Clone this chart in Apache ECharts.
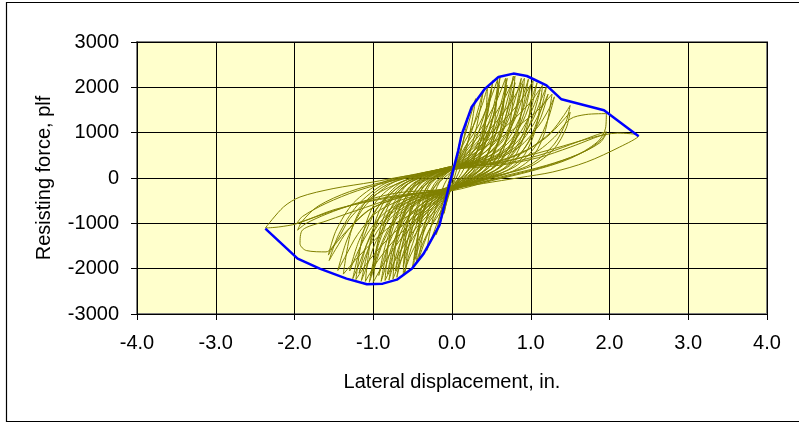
<!DOCTYPE html>
<html><head><meta charset="utf-8">
<script src="https://cdn.jsdelivr.net/npm/echarts@6/dist/echarts.min.js"></script>
<style>html,body{margin:0;padding:0;background:#fff}#c{width:799px;height:423px}</style>
</head><body><div id="c"></div>
<script>
// ---- axis ticks ----
const xTicks = [-4, -3, -2, -1, 0, 1, 2, 3, 4];
const yTicks = [-3000, -2000, -1000, 0, 1000, 2000, 3000];
const xTitle = 'Lateral displacement, in.';
const yTitle = 'Resisting force, plf';

// ---- backbone envelope (blue) ----
const envelopeX = [-2.37,-1.96,-1.68,-1.34,-1.08,-0.88,-0.70,-0.51,-0.36,-0.16,-0.03,0.08,0.12,0.25,0.42,0.59,0.78,0.95,1.20,1.39,1.93,2.37];
const envelopeY = [-1117,-1779,-2000,-2220,-2345,-2330,-2242,-2000,-1668,-1044,-124,611,942,1566,1972,2228,2303,2250,2045,1736,1493,920];

// ---- hysteresis loops (olive), [displacement, force] ----
const cycleA = [[0,0],[0.05,420],[0.1,800],[0.07,520],[0.02,100],[-0.03,-250],[-0.08,-620],[-0.1,-780],[-0.07,-500],[-0.02,-120],[0,30]];
const cycleB = [[0,30],[0.08,600],[0.15,1080],[0.2,1350],[0.17,1050],[0.1,480],[0.03,0],[-0.03,-330],[-0.1,-720],[-0.16,-1050],[-0.2,-1250],[-0.17,-950],[-0.1,-430],[-0.03,-20],[0,150]];
const cycleC = [[0,150],[0.1,580],[0.2,1150],[0.27,1580],[0.3,1750],[0.26,1300],[0.19,700],[0.1,180],[0,-180],[-0.1,-580],[-0.2,-1050],[-0.28,-1430],[-0.32,-1600],[-0.28,-1180],[-0.2,-620],[-0.1,-150],[0,160]];
const cycleD = [[0,160],[0.12,480],[0.24,980],[0.33,1500],[0.4,1950],[0.35,1450],[0.27,820],[0.15,200],[0,-220],[-0.12,-560],[-0.25,-1000],[-0.35,-1420],[-0.42,-1780],[-0.37,-1250],[-0.28,-620],[-0.15,-60],[0,200]];
const cycleE = [[0,200],[0.15,430],[0.3,850],[0.42,1450],[0.49,1900],[0.52,2150],[0.47,1600],[0.38,900],[0.25,300],[0.1,-50],[0,-230],[-0.15,-520],[-0.3,-950],[-0.41,-1450],[-0.47,-1800],[-0.5,-1950],[-0.45,-1400],[-0.36,-700],[-0.22,-120],[0,220]];
const cycleF = [[0,220],[0.2,450],[0.38,850],[0.5,1400],[0.57,1900],[0.61,2220],[0.56,1650],[0.46,950],[0.32,320],[0.15,0],[0,-230],[-0.2,-500],[-0.38,-900],[-0.5,-1450],[-0.57,-1850],[-0.6,-2100],[-0.55,-1500],[-0.45,-750],[-0.3,-150],[-0.1,100],[0,220]];
const cycleG = [[0,230],[0.25,470],[0.45,850],[0.58,1400],[0.66,1900],[0.7,2200],[0.65,1650],[0.55,950],[0.4,350],[0.2,0],[0,-240],[-0.25,-520],[-0.45,-900],[-0.58,-1450],[-0.66,-1900],[-0.7,-2190],[-0.64,-1550],[-0.53,-800],[-0.36,-180],[-0.15,100],[0,230]];
const cycleH = [[0,230],[0.28,450],[0.5,820],[0.64,1350],[0.73,1900],[0.78,2250],[0.72,1650],[0.62,950],[0.45,330],[0.25,20],[0,-250],[-0.3,-520],[-0.52,-900],[-0.66,-1450],[-0.75,-1950],[-0.8,-2250],[-0.73,-1550],[-0.6,-750],[-0.42,-150],[-0.2,120],[0,240]];
const cycleI = [[0,240],[0.3,430],[0.55,780],[0.72,1300],[0.82,1850],[0.88,2200],[0.82,1600],[0.7,900],[0.52,320],[0.3,20],[0,-260],[-0.32,-500],[-0.58,-880],[-0.74,-1400],[-0.84,-1950],[-0.9,-2280],[-0.82,-1550],[-0.68,-750],[-0.48,-150],[-0.22,120],[0,250]];
const cycleJ = [[0,250],[0.35,420],[0.62,760],[0.8,1300],[0.91,1850],[0.97,2180],[0.9,1550],[0.77,850],[0.58,300],[0.33,20],[0,-260],[-0.38,-480],[-0.68,-850],[-0.87,-1400],[-0.98,-1950],[-1.05,-2300],[-0.96,-1550],[-0.8,-750],[-0.57,-150],[-0.28,120],[0,260]];
const cycleK = [[0,260],[0.4,420],[0.7,750],[0.9,1250],[1.02,1800],[1.08,2100],[1.0,1500],[0.86,820],[0.65,300],[0.38,20],[0,-270],[-0.42,-470],[-0.75,-830],[-0.96,-1380],[-1.08,-1950],[-1.15,-2260],[-1.05,-1500],[-0.88,-720],[-0.62,-150],[-0.3,120],[0,260]];
const cycleL = [[0,260],[0.45,400],[0.78,720],[1.0,1200],[1.13,1720],[1.2,2020],[1.12,1450],[0.97,800],[0.74,280],[0.42,20],[0,-270],[-0.46,-450],[-0.82,-800],[-1.05,-1350],[-1.18,-1900],[-1.26,-2220],[-1.15,-1450],[-0.96,-700],[-0.68,-140],[-0.32,120],[0,250]];
const cycleM = [[0,250],[0.5,380],[0.85,680],[1.1,1150],[1.24,1550],[1.3,1790],[1.22,1300],[1.06,700],[0.8,250],[0.45,10],[0,-260],[-0.55,-430],[-0.95,-750],[-1.2,-1250],[-1.36,-1750],[-1.45,-2040],[-1.33,-1350],[-1.12,-650],[-0.78,-130],[-0.38,110],[0,240]];
const cycleN = [[0,240],[0.55,360],[0.95,620],[1.25,1000],[1.42,1380],[1.5,1600],[1.45,1250],[1.3,750],[1.0,300],[0.55,30],[0,-250],[-0.6,-400],[-1.05,-700],[-1.32,-1150],[-1.48,-1580],[-1.56,-1820],[-1.44,-1250],[-1.2,-600],[-0.85,-120],[-0.4,100],[0,230]];
const cycleO = [[0,230],[0.6,330],[1.05,560],[1.3,900],[1.5,1300],[1.7,1400],[1.96,1420],[1.95,1100],[1.85,800],[1.5,430],[1.0,150],[0.5,-60],[0,-280],[-0.6,-380],[-1.1,-650],[-1.6,-950],[-1.9,-1150],[-1.93,-1450],[-1.85,-1600],[-1.6,-1630],[-1.45,-1350],[-1.3,-900],[-1.0,-400],[-0.6,-60],[0,250]];
const cycleP = [[0,250],[0.7,330],[1.2,550],[1.6,800],[1.85,960],[1.96,1020],[1.9,850],[1.7,600],[1.3,320],[0.8,80],[0,-230],[-0.7,-330],[-1.2,-550],[-1.6,-800],[-1.85,-1000],[-1.96,-1150],[-1.9,-950],[-1.7,-620],[-1.3,-300],[-0.8,-60],[0,180]];
const cycleQ = [[0,180],[0.7,380],[1.3,650],[1.8,900],[2.1,990],[2.37,930],[2.13,684],[1.71,353],[1.28,133],[0.86,9],[0.4,-120],[0,-230],[-0.66,-400],[-1.0,-500],[-1.5,-700],[-1.97,-1007],[-2.2,-1080],[-2.37,-1103],[-2.14,-640],[-1.93,-419],[-1.51,-234],[-1.0,-88],[-0.66,22],[0,200]];
const cycleR = [[0,200],[0.6,280],[1.1,450],[1.5,680],[1.8,880],[1.96,980],[1.88,780],[1.6,520],[1.2,280],[0.7,60],[0,-250],[-0.6,-360],[-1.1,-520],[-1.5,-720],[-1.8,-900],[-1.97,-1000],[-1.9,-850],[-1.6,-560],[-1.2,-280],[-0.7,-40],[0,200]];
const cycleS = [[0,220],[0.5,320],[0.9,560],[1.2,900],[1.4,1250],[1.5,1450],[1.45,1100],[1.3,650],[1.0,260],[0.5,20],[0,-240],[-0.55,-380],[-1.0,-650],[-1.3,-1100],[-1.5,-1500],[-1.57,-1700],[-1.47,-1150],[-1.25,-550],[-0.9,-110],[-0.45,90],[0,220]];
const repeatE = [[0,180],[0.18,380],[0.33,780],[0.43,1350],[0.5,1950],[0.45,1400],[0.35,750],[0.2,180],[0,-200],[-0.17,-470],[-0.32,-900],[-0.42,-1400],[-0.48,-1800],[-0.43,-1250],[-0.33,-600],[-0.18,-80],[0,200]];
const repeatF = [[0,200],[0.22,420],[0.4,800],[0.52,1350],[0.6,2050],[0.54,1450],[0.43,800],[0.28,250],[0.1,-50],[0,-210],[-0.22,-460],[-0.4,-850],[-0.53,-1400],[-0.62,-1950],[-0.56,-1350],[-0.45,-650],[-0.28,-100],[-0.1,120],[0,200]];
const repeatG = [[0,210],[0.27,440],[0.47,800],[0.6,1350],[0.7,2050],[0.63,1450],[0.52,800],[0.36,280],[0.15,-20],[0,-220],[-0.27,-480],[-0.47,-850],[-0.61,-1400],[-0.72,-2050],[-0.65,-1400],[-0.52,-700],[-0.33,-130],[-0.12,110],[0,220]];
const repeatH = [[0,220],[0.3,420],[0.53,780],[0.68,1350],[0.8,2100],[0.73,1500],[0.6,820],[0.42,270],[0.2,-10],[0,-230],[-0.32,-490],[-0.55,-870],[-0.7,-1420],[-0.82,-2120],[-0.74,-1450],[-0.6,-700],[-0.4,-130],[-0.15,120],[0,230]];
const repeatI = [[0,230],[0.34,410],[0.6,760],[0.77,1300],[0.9,2080],[0.82,1480],[0.68,800],[0.48,260],[0.25,0],[0,-240],[-0.36,-470],[-0.62,-850],[-0.79,-1400],[-0.93,-2150],[-0.84,-1450],[-0.68,-700],[-0.45,-130],[-0.18,120],[0,240]];
const repeatJ = [[0,240],[0.38,400],[0.66,740],[0.85,1280],[1.0,2050],[0.92,1450],[0.76,780],[0.54,250],[0.28,0],[0,-250],[-0.4,-460],[-0.7,-830],[-0.88,-1380],[-1.03,-2150],[-0.93,-1450],[-0.75,-700],[-0.5,-130],[-0.2,120],[0,250]];
const repeatK = [[0,250],[0.43,400],[0.74,720],[0.95,1250],[1.12,1950],[1.03,1380],[0.86,740],[0.62,240],[0.32,0],[0,-260],[-0.45,-450],[-0.78,-800],[-1.0,-1330],[-1.18,-2100],[-1.07,-1400],[-0.86,-680],[-0.56,-130],[-0.22,110],[0,250]];
const repeatL = [[0,250],[0.48,390],[0.82,700],[1.04,1200],[1.22,1850],[1.12,1300],[0.94,700],[0.68,230],[0.36,0],[0,-260],[-0.5,-440],[-0.86,-780],[-1.1,-1300],[-1.3,-2050],[-1.18,-1380],[-0.95,-660],[-0.62,-130],[-0.25,110],[0,240]];
const fan1 = [[0,150],[0.13,700],[0.27,1150],[0.38,1600],[0.45,2000],[0.42,1150],[0.36,500],[0.27,150],[0.13,-80],[0,-220],[-0.13,-700],[-0.27,-1080],[-0.38,-1480],[-0.45,-1850],[-0.42,-1050],[-0.36,-450],[-0.27,-130],[-0.13,80],[0,200]];
const fan2 = [[0,200],[0.17,700],[0.35,1200],[0.49,1750],[0.58,2180],[0.54,1200],[0.46,550],[0.35,180],[0.17,-70],[0,-230],[-0.19,-720],[-0.37,-1180],[-0.53,-1720],[-0.62,-2150],[-0.58,-1180],[-0.5,-520],[-0.37,-150],[-0.19,70],[0,210]];
const fan3 = [[0,210],[0.2,700],[0.41,1200],[0.58,1760],[0.68,2200],[0.63,1200],[0.54,550],[0.41,170],[0.2,-70],[0,-240],[-0.22,-720],[-0.45,-1200],[-0.64,-1780],[-0.75,-2230],[-0.7,-1220],[-0.6,-540],[-0.45,-150],[-0.22,80],[0,220]];
const fan4 = [[0,220],[0.24,720],[0.48,1230],[0.68,1800],[0.8,2250],[0.74,1240],[0.64,560],[0.48,170],[0.24,-70],[0,-250],[-0.26,-730],[-0.51,-1220],[-0.72,-1810],[-0.85,-2260],[-0.79,-1240],[-0.68,-560],[-0.51,-160],[-0.26,80],[0,230]];
const fan5 = [[0,230],[0.28,720],[0.55,1210],[0.78,1760],[0.92,2200],[0.86,1210],[0.74,550],[0.55,170],[0.28,-70],[0,-260],[-0.3,-740],[-0.6,-1240],[-0.85,-1840],[-1.0,-2300],[-0.93,-1270],[-0.8,-580],[-0.6,-170],[-0.3,80],[0,240]];
const fan6 = [[0,240],[0.31,720],[0.62,1200],[0.88,1720],[1.03,2150],[0.96,1180],[0.82,540],[0.62,160],[0.31,-70],[0,-260],[-0.33,-730],[-0.66,-1230],[-0.94,-1820],[-1.1,-2280],[-1.02,-1250],[-0.88,-570],[-0.66,-170],[-0.33,80],[0,240]];
const fan7 = [[0,240],[0.35,700],[0.69,1150],[0.98,1640],[1.15,2050],[1.07,1130],[0.92,510],[0.69,160],[0.35,-60],[0,-260],[-0.37,-720],[-0.73,-1200],[-1.04,-1790],[-1.22,-2240],[-1.13,-1230],[-0.98,-560],[-0.73,-160],[-0.37,80],[0,240]];
const fan8 = [[0,240],[0.38,650],[0.76,1050],[1.08,1480],[1.27,1850],[1.18,1020],[1.02,460],[0.76,140],[0.38,-60],[0,-260],[-0.41,-690],[-0.83,-1130],[-1.17,-1700],[-1.38,-2120],[-1.28,-1170],[-1.1,-530],[-0.83,-150],[-0.41,70],[0,230]];
const trailing1 = [[0,200],[0.2,350],[0.35,650],[0.45,1000],[0.4,700],[0.25,250],[0,-150],[-0.2,-330],[-0.35,-650],[-0.45,-1000],[-0.4,-700],[-0.25,-250],[0,150]];
const trailing2 = [[0,180],[0.3,330],[0.55,700],[0.65,1100],[0.58,750],[0.4,250],[0,-170],[-0.3,-350],[-0.55,-700],[-0.68,-1150],[-0.6,-780],[-0.42,-260],[0,170]];
const trailing3 = [[0,200],[0.4,320],[0.7,620],[0.85,1000],[0.75,650],[0.5,200],[0,-200],[-0.4,-350],[-0.72,-650],[-0.88,-1050],[-0.78,-680],[-0.52,-220],[0,190]];

const loops = [cycleA,cycleB,cycleC,cycleD,fan1,cycleE,repeatE,trailing1,fan2,cycleF,repeatF,fan3,cycleG,repeatG,trailing2,fan4,cycleH,repeatH,fan5,cycleI,repeatI,trailing3,cycleJ,repeatJ,fan6,cycleK,repeatK,fan7,cycleL,repeatL,fan8,cycleM,cycleN,cycleS,cycleO,cycleP,cycleR,cycleQ];

const FONT = '"Liberation Sans", Arial, sans-serif';
const chart = echarts.init(document.getElementById('c'), null, {renderer: 'canvas'});

const series = loops.map(l => ({
  type: 'line', data: l, showSymbol: false, smooth: 0.3, silent: true,
  lineStyle: {color: '#808000', width: 1}, z: 2
}));
series.push({
  type: 'line', data: envelopeX.map((x, i) => [x, envelopeY[i]]), showSymbol: false, silent: true,
  lineStyle: {color: '#0000FF', width: 2.5}, z: 3
});

chart.setOption({
  animation: false,
  backgroundColor: '#ffffff',
  graphic: [{type: 'rect', shape: {x: 6.5, y: 2.5, width: 800, height: 419}, style: {fill: 'none', stroke: '#000', lineWidth: 1.2}, z: -10}],
  grid: {left: 137, top: 42, width: 630, height: 272, show: true, backgroundColor: '#FFFFCC', borderColor: '#808080', borderWidth: 2},
  xAxis: {
    type: 'value', min: xTicks[0], max: xTicks[xTicks.length - 1], interval: 1,
    name: xTitle, nameLocation: 'middle', nameGap: 58,
    nameTextStyle: {fontFamily: FONT, fontSize: 20, color: '#000'},
    axisLine: {show: true, onZero: false, lineStyle: {color: '#000', width: 1}},
    axisTick: {show: true, inside: false, length: 6, lineStyle: {color: '#000'}},
    axisLabel: {margin: 19, fontFamily: FONT, fontSize: 20, color: '#000', formatter: v => v.toFixed(1), showMinLabel: true, showMaxLabel: true},
    splitLine: {show: true, lineStyle: {color: '#000', width: 1}}
  },
  yAxis: {
    type: 'value', min: yTicks[0], max: yTicks[yTicks.length - 1], interval: 1000,
    name: yTitle, nameLocation: 'middle', nameGap: 83, nameRotate: 90,
    nameTextStyle: {fontFamily: FONT, fontSize: 20, color: '#000'},
    axisLine: {show: true, onZero: false, lineStyle: {color: '#000', width: 1}},
    axisTick: {show: true, inside: false, length: 6, lineStyle: {color: '#000'}},
    axisLabel: {margin: 18, fontFamily: FONT, fontSize: 20, color: '#000', formatter: v => String(v), showMinLabel: true, showMaxLabel: true},
    splitLine: {show: true, lineStyle: {color: '#000', width: 1}}
  },
  series: series
});
</script>
</body></html>
